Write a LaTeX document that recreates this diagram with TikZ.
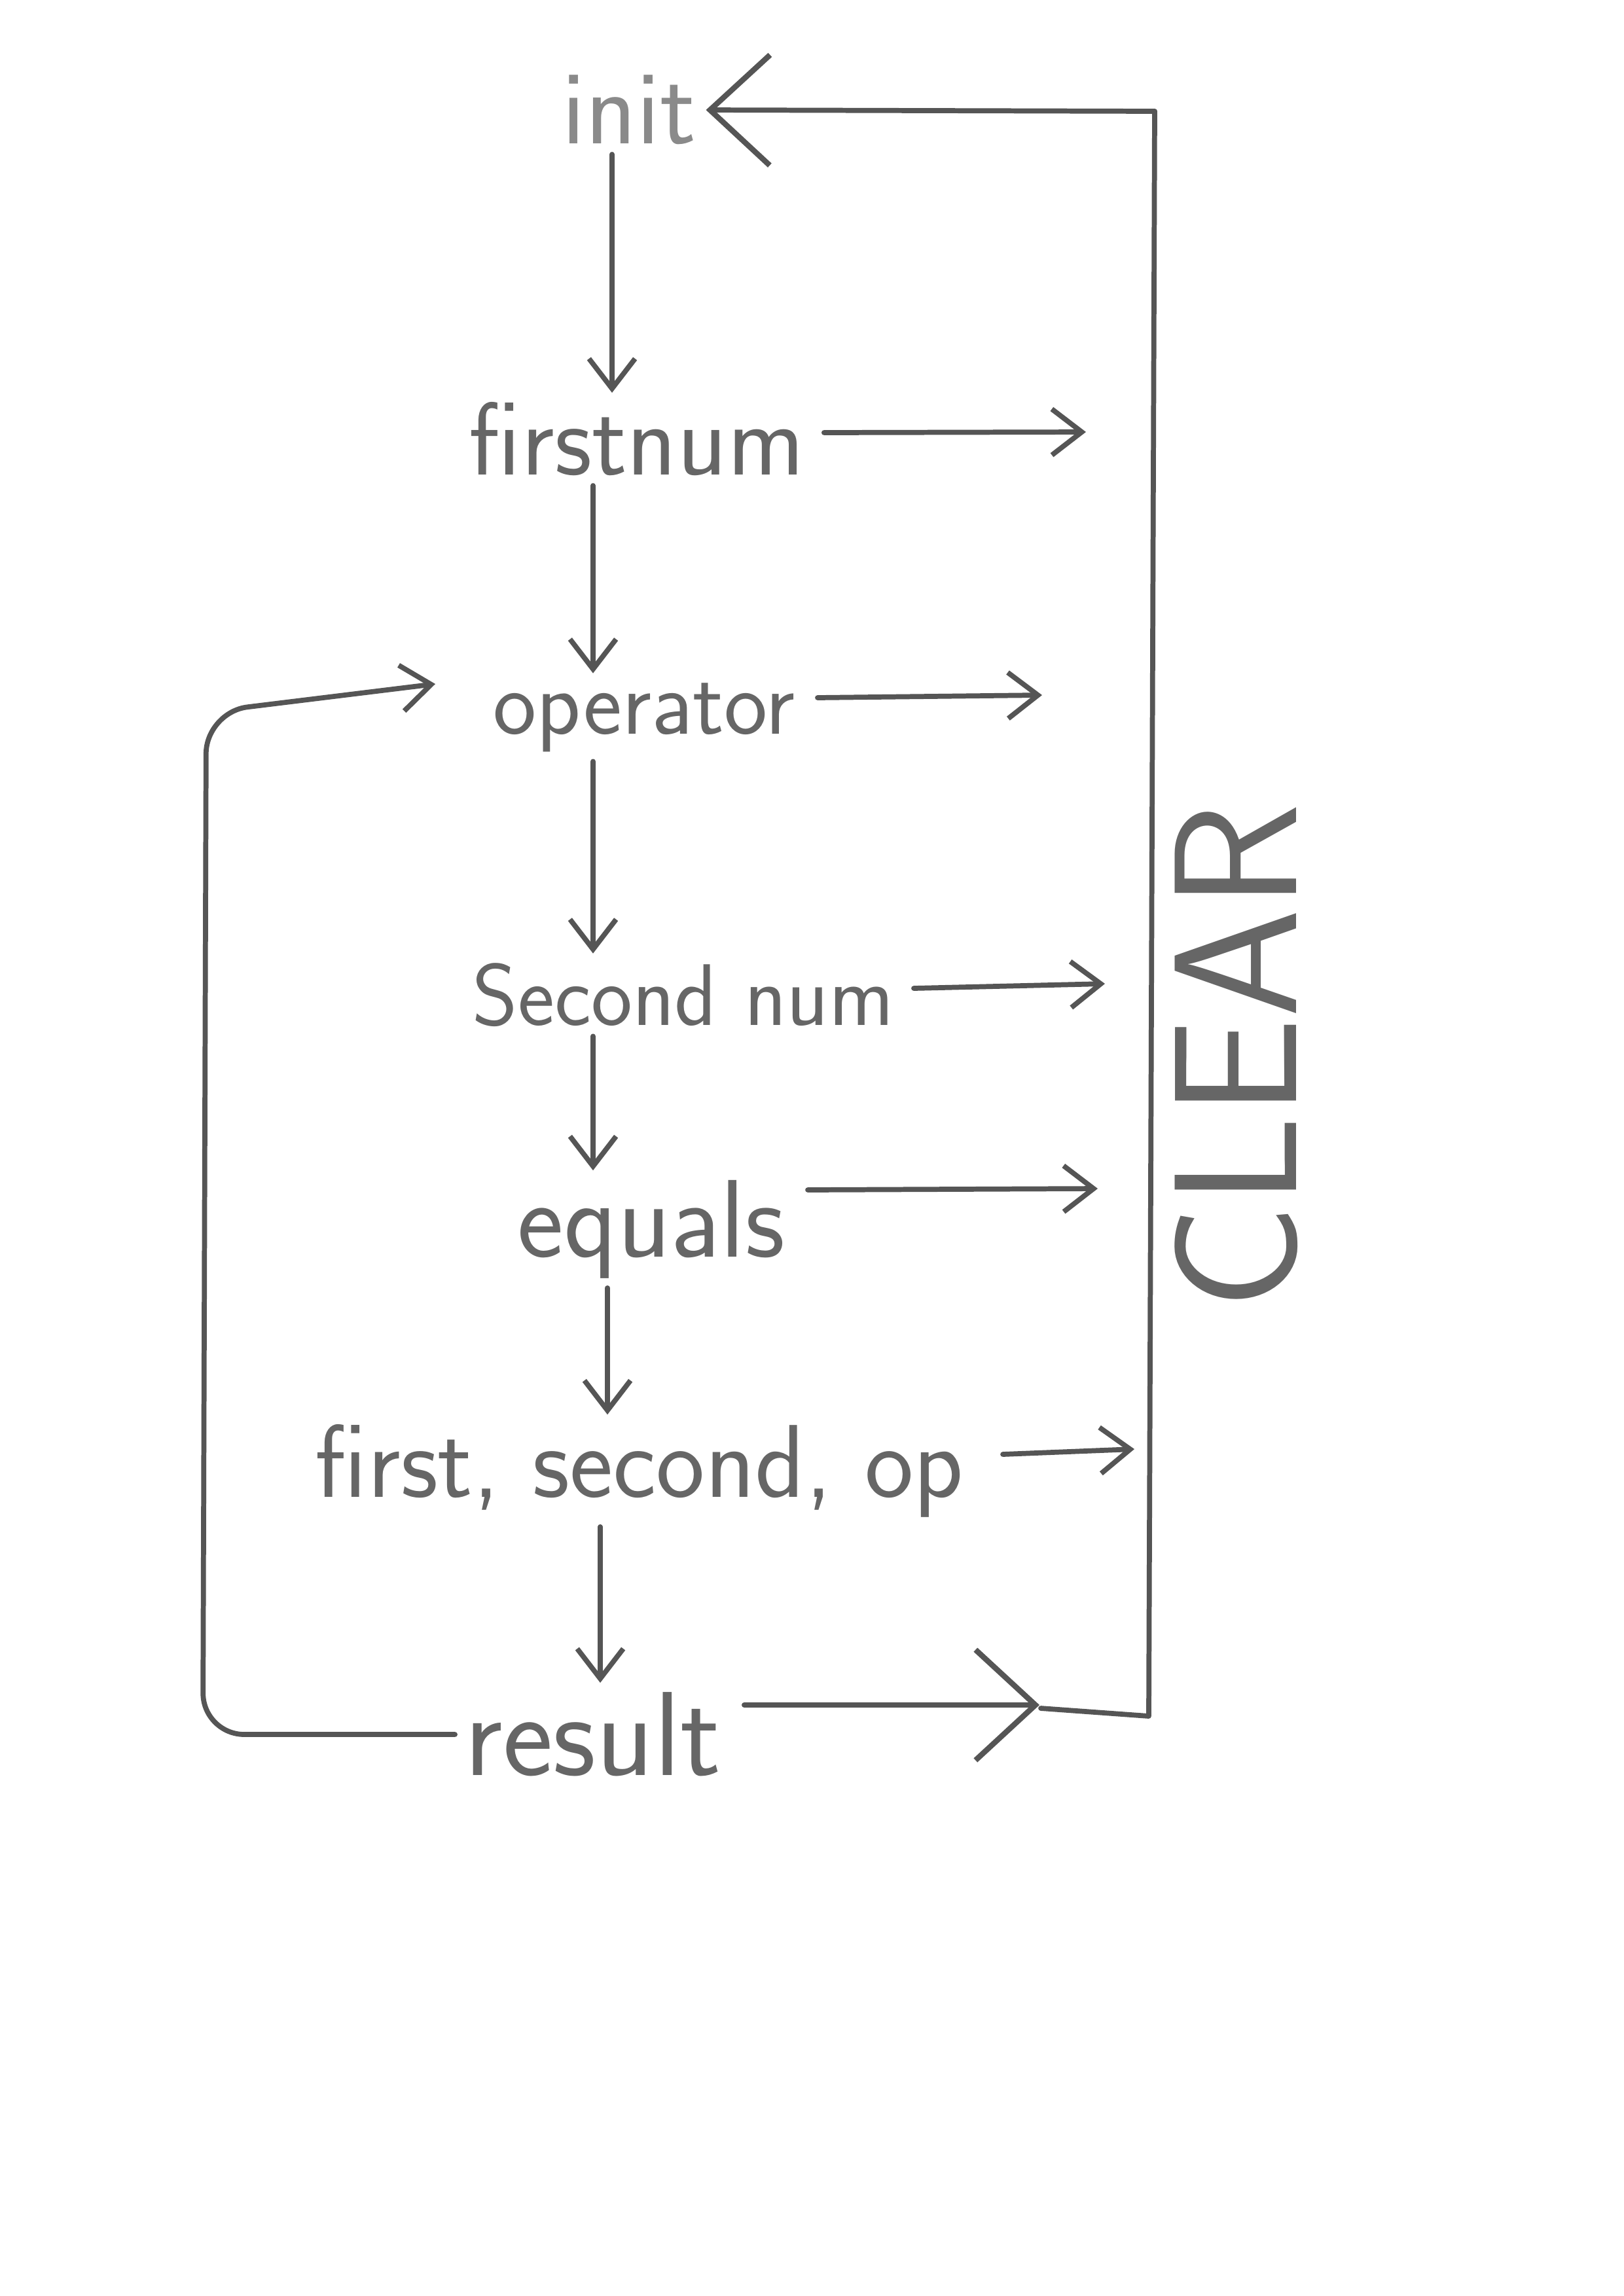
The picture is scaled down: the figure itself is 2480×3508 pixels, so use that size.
\documentclass[tikz,border=0pt]{standalone}
\usetikzlibrary{arrows.meta}
\definecolor{pencil}{HTML}{555555}
\definecolor{pencilt}{HTML}{666666}
\definecolor{pencill}{HTML}{8A8A8A}
\begin{document}
\begin{tikzpicture}[x=0.01cm,y=-0.01cm,
  lbl/.style={font=\sffamily\fontsize{38}{44}\selectfont, text=pencilt, inner sep=4pt},
  ln/.style={draw=pencil, line width=2.2pt, line cap=round, line join=round},
  arr/.style={ln, -{Straight Barb[length=13pt,width=20pt,line width=2.2pt]}},
  bigarr/.style={ln, -{Straight Barb[length=26pt,width=48pt,line width=2.4pt]}}]
\path[fill=white] (0,0) rectangle (2480,3508);
% states
\node[lbl, text=pencill, font=\sffamily\fontsize{46}{52}\selectfont] (init) at (961,168) {init};
\node[lbl, font=\sffamily\fontsize{45}{52}\selectfont] (firstnum) at (973,671) {firstnum};
\node[lbl, font=\sffamily\fontsize{40}{46}\selectfont] (operator) at (984,1096) {operator};
\node[lbl] (second) at (1044,1520) {Second num};
\node[lbl, font=\sffamily\fontsize{48}{54}\selectfont] (equals) at (995,1878) {equals};
\node[lbl, font=\sffamily\fontsize{45}{52}\selectfont] (fso) at (977,2247) {first, second, op};
\node[lbl, font=\sffamily\fontsize{52}{58}\selectfont] (result) at (906,2650) {result};
\node[font=\sffamily\fontsize{76}{84}\selectfont, text=pencilt, rotate=90] (clear) at (1889,1614) {CLEAR};
% downward arrows (vertical)
\coordinate (d1) at (935,0);
\coordinate (d2) at (906,0);
\coordinate (d5) at (928,0);
\coordinate (d6) at (917,0);
\draw[arr] (init.south -| d1) -- (firstnum.north -| d1);
\draw[arr] (firstnum.south -| d2) -- (operator.north -| d2);
\draw[arr] (operator.south -| d2) -- (second.north -| d2);
\draw[arr] (second.south -| d2) -- (equals.north -| d2);
\draw[arr] (equals.south -| d5) -- (fso.north -| d5);
\draw[arr] (fso.south -| d6) -- (result.north -| d6);
% right arrows
\coordinate (c1) at (1659,660);
\coordinate (c2) at (1592,1062);
\coordinate (c3) at (1688,1503);
\coordinate (c4) at (1677,1816);
\coordinate (c5) at (1733,2214);
\coordinate (c6) at (1588,2605);
\draw[arr] (firstnum.east) ++(15,-10) -- (c1);
\draw[arr] (operator.east) ++(20,-30) -- (c2);
\draw[arr] (second.east) ++(15,-10) -- (c3);
\draw[arr] (equals.east) ++(20,-60) -- (c4);
\draw[arr] (fso.east) ++(45,-25) -- (c5);
\draw[bigarr] (result.east) ++(20,-45) -- (c6);
% clear bus
\coordinate (rb) at (1755,2622);
\coordinate (rbl) at (1590,2610);
\coordinate (rt) at (1764,170);
\draw[ln] (rbl) -- (rb) -- (rt);
\draw[bigarr] (rt) -- (init.east);
% loop back from result to operator
\coordinate (l1) at (310,2650);
\coordinate (l2) at (315,1088);
\coordinate (lop) at (665,1045);
\draw[arr, rounded corners=18pt] (result.west) -- (l1) -- (l2) -- (lop);
\end{tikzpicture}
\end{document}
